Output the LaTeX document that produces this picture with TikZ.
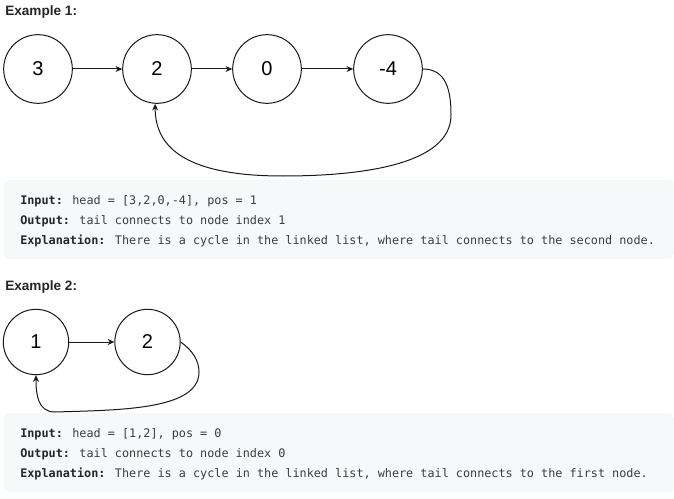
\documentclass[tikz,border=0pt]{standalone}
\usepackage{fontspec}
\setmainfont{Liberation Sans}
\newfontfamily\codefont{DejaVu Sans Mono}
\usetikzlibrary{arrows.meta}
\definecolor{titlecol}{HTML}{262626}
\definecolor{labelcol}{HTML}{262626}
\definecolor{textcol}{HTML}{3C3C43}
\definecolor{boxbg}{HTML}{F7F8FA}
\newcommand{\lbl}[1]{{\color{labelcol}\bfseries #1}}
\begin{document}
\begin{tikzpicture}[x=0.75pt,y=-0.75pt,
  listnode/.style={circle,draw=black!90,line width=0.75pt,minimum size=51.5pt,inner sep=0pt,font=\fontsize{15}{18}\selectfont},
  smallnode/.style={listnode,minimum size=49pt},
  link/.style={draw=black!90,line width=0.75pt,-{Stealth[length=5pt,width=4.5pt]}},
  title/.style={anchor=base west,inner sep=0pt,font=\bfseries\fontsize{10.2}{12}\selectfont,text=titlecol},
  codeline/.style={anchor=base west,inner sep=0pt,font=\codefont\fontsize{8.85}{11}\selectfont,text=textcol},
  codebox/.style={fill=boxbg,rounded corners=4pt}
]
\useasboundingbox (0,0) rectangle (674,499);
\fill[white] (0,0) rectangle (674,499);

% Example 1
\node[title] (t1) at (5,16) {Example 1:};
\node[listnode] (a3) at (38,69) {3};
\node[listnode] (a2) at (157,69) {2};
\node[listnode] (a0) at (267,69) {0};
\node[listnode] (a4) at (388,69) {-4};
\draw[link] (a3) -- (a2);
\draw[link] (a2) -- (a0);
\draw[link] (a0) -- (a4);
\coordinate (k1) at (451,115);
\coordinate (k2) at (283,176);
\draw[link] (a4.east) .. controls (446,69) and (451,90) .. (k1)
  .. controls (451,165) and (360,176) .. (k2)
  .. controls (190,176) and (155,150) .. (a2.-93);

\path[codebox] (4,180) rectangle (674,259);
\node[codeline] (i1) at (20,204.5) {\lbl{Input:} head = [3,2,0,-4], pos = 1};
\node[codeline] (o1) at (20,224.5) {\lbl{Output:} tail connects to node index 1};
\node[codeline] (e1) at (20,244.5) {\lbl{Explanation:} There is a cycle in the linked list, where tail connects to the second node.};

% Example 2
\node[title] (t2) at (5,290) {Example 2:};
\node[smallnode] (b1) at (36,342) {1};
\node[smallnode] (b2) at (147.5,342) {2};
\draw[link] (b1) -- (b2);
\coordinate (m1) at (199,372);
\coordinate (m2) at (55,412);
\draw[link] (b2.east) .. controls (192,350) and (199,360) .. (m1)
  .. controls (199,410) and (120,410) .. (m2)
  .. controls (38,412) and (36,395) .. (b1.south);

\path[codebox] (4,413) rectangle (674,492);
\node[codeline] (i2) at (20,437.5) {\lbl{Input:} head = [1,2], pos = 0};
\node[codeline] (o2) at (20,457.5) {\lbl{Output:} tail connects to node index 0};
\node[codeline] (e2) at (20,477.5) {\lbl{Explanation:} There is a cycle in the linked list, where tail connects to the first node.};
\end{tikzpicture}
\end{document}
